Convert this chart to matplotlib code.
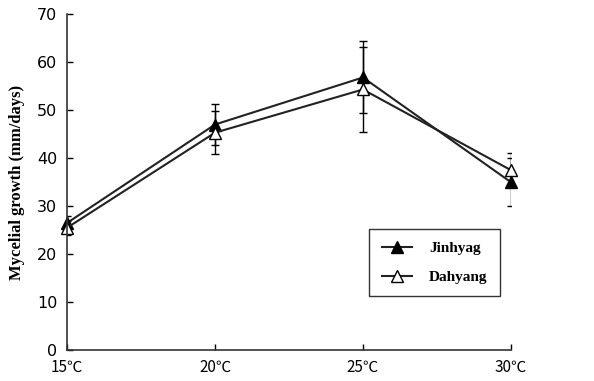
import matplotlib.pyplot as plt
from matplotlib.lines import Line2D
import numpy as np

temps = [15, 20, 25, 30]
temp_labels = ["15℃", "20℃", "25℃", "30℃"]
jinhyag = [26.5, 47.0, 56.8, 35.0]
jinhyag_err = [1.5, 4.3, 7.5, 5.0]
dahyang = [25.5, 45.3, 54.3, 37.5]
dahyang_err = [1.5, 4.5, 8.8, 3.5]

fig = plt.figure(figsize=(5.94, 3.81), dpi=100)
ax = fig.add_axes([0.113, 0.081, 0.747, 0.882])

for ys, err, fc in ((jinhyag, jinhyag_err, "black"), (dahyang, dahyang_err, "white")):
    eb = ax.errorbar(temps, ys, yerr=err, color="#222222", lw=1.5,
                     marker="^", ms=8, mfc=fc, mec="black",
                     ecolor="black", elinewidth=1, capsize=3)
    eb.lines[0].set_clip_on(False)

ax.set_xlim(15, 30)
ax.set_ylim(0, 70)
ax.set_xticks(temps)
ax.set_xticklabels(temp_labels, family=["Noto Sans CJK KR", "DejaVu Sans"], fontsize=11)
ax.set_yticks(np.arange(0, 71, 10))
for lab in ax.get_yticklabels():
    lab.set_fontsize(11.5)
ax.tick_params(direction="in", length=4, width=1, pad=6)
ax.tick_params(axis="y", pad=7)
ax.spines["top"].set_visible(False)
ax.spines["right"].set_visible(False)
for s in ("left", "bottom"):
    ax.spines[s].set_linewidth(1.2)
    ax.spines[s].set_color("#333333")

ax.set_ylabel("Mycelial growth (mm/days)", family="Liberation Serif",
              fontweight="bold", fontsize=12, labelpad=9)

handles = [
    Line2D([], [], color="#222222", lw=1.5, marker="^", ms=8, mfc="black", mec="black"),
    Line2D([], [], color="#222222", lw=1.5, marker="^", ms=8, mfc="white", mec="black"),
]
leg = ax.legend(handles, ["Jinhyag", "Dahyang"], loc="lower right",
                bbox_to_anchor=(0.975, 0.16),
                prop={"family": "Liberation Serif", "weight": "bold", "size": 11},
                fancybox=False, edgecolor="#333333", framealpha=1,
                handlelength=2.0, borderpad=0.8, labelspacing=1.0,
                handletextpad=1.1, borderaxespad=0)
leg.get_frame().set_linewidth(1)

fig.savefig("out.png", dpi=100)
